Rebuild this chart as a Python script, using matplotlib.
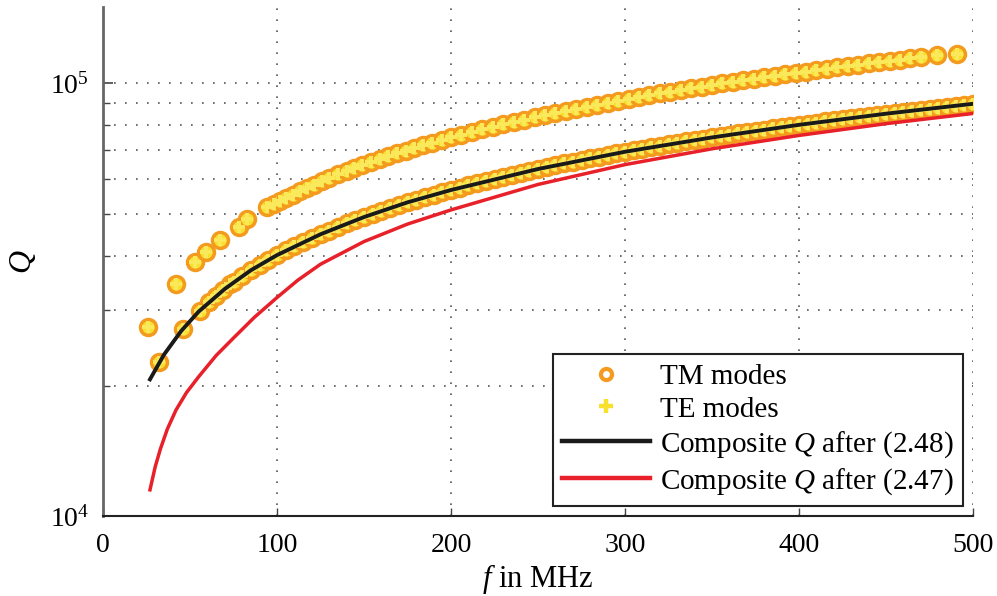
import matplotlib
matplotlib.use("Agg")
import matplotlib.pyplot as plt
from matplotlib.lines import Line2D
from matplotlib.ticker import LogLocator, NullFormatter

plt.rcParams['font.family'] = ['Liberation Serif', 'DejaVu Serif']
plt.rcParams['mathtext.fontset'] = 'custom'
plt.rcParams['mathtext.rm'] = 'Liberation Serif'
plt.rcParams['mathtext.it'] = 'Liberation Serif:italic'

# resonator modes, upper branch (f in MHz, Q)
f_upper = [26, 42, 53, 59, 67, 78, 83, 94, 98, 102, 105, 109, 113, 117, 121, 126, 130, 135,
           140, 144, 149, 154, 159, 164, 169, 174, 179, 184, 189, 195, 200, 206, 212, 218,
           224, 230, 236, 242, 248, 254, 260, 266, 272, 278, 284, 290, 296, 302, 308, 314,
           320, 326, 332, 338, 344, 350, 356, 362, 368, 374, 380, 386, 392, 398, 404, 410,
           416, 422, 428, 434, 440, 446, 452, 458, 464, 470, 479, 491]
q_upper = [27300, 34350, 38600, 40700, 43400, 46500, 48500, 51700, 52500, 53500, 54300,
           55300, 56300, 57300, 58300, 59500, 60400, 61600, 62700, 63600, 64700, 65800,
           66800, 67900, 68900, 69900, 70900, 71900, 72900, 74000, 75000, 76100, 77200,
           78300, 79300, 80400, 81400, 82400, 83500, 84500, 85500, 86400, 87400, 88400,
           89300, 90300, 91200, 92100, 93000, 93900, 94800, 95700, 96600, 97400, 98300,
           99200, 100000, 100800, 101700, 102500, 103300, 104100, 104900, 105700, 106500,
           107300, 108100, 108900, 109600, 110400, 111200, 111900, 112700, 113400, 114200,
           114900, 116000, 117100]

# resonator modes, lower branch
f_lower = [32, 46, 56, 61, 65, 69, 73, 75, 80, 85, 90, 95, 100, 105, 110, 115, 120, 125,
           130, 135, 140, 145, 150, 155, 160, 165, 170, 175, 180, 185, 190, 195, 200, 205,
           210, 215, 220, 225, 230, 235, 240, 245, 250, 255, 260, 265, 270, 275, 280, 285,
           290, 295, 300, 305, 310, 315, 320, 325, 330, 335, 340, 345, 350, 355, 360, 365,
           370, 375, 380, 385, 390, 395, 400, 405, 410, 415, 420, 425, 430, 435, 440, 445,
           450, 455, 460, 465, 470, 475, 480, 485, 490, 495, 500]
q_lower = [22700, 27000, 29800, 31300, 32300, 33300, 34300, 34700, 35900, 37000, 38100,
           39100, 40100, 41100, 42100, 43000, 43900, 44800, 45700, 46600, 47500, 48300,
           49100, 49900, 50700, 51500, 52300, 53100, 53800, 54600, 55300, 56000, 56700,
           57400, 58100, 58800, 59500, 60200, 60800, 61500, 62100, 62800, 63400, 64100,
           64700, 65300, 65900, 66500, 67100, 67700, 68300, 68900, 69500, 70100, 70600,
           71200, 71800, 72300, 72900, 73400, 74000, 74500, 75000, 75600, 76100, 76600,
           77200, 77700, 78200, 78700, 79200, 79700, 80200, 80700, 81200, 81700, 82200,
           82700, 83200, 83700, 84100, 84600, 85100, 85600, 86000, 86500, 87000, 87400,
           87900, 88300, 88800, 89200, 89700]

# composite Q curves
f_248 = [27, 35, 45, 55, 70, 85, 100, 125, 150, 175, 200, 250, 300, 350, 400, 450, 500]
q_248 = [20700, 23600, 26800, 29700, 33500, 37000, 40100, 44800, 49100, 53100, 56700,
         63400, 69500, 75000, 80200, 85100, 89700]
f_247 = [27, 30, 33, 37, 42, 48, 55, 65, 75, 87, 100, 112, 125, 150, 175, 200, 250, 300,
         350, 400, 450, 500]
q_247 = [11500, 13000, 14300, 15900, 17600, 19300, 21000, 23500, 25800, 28800, 32000,
         35100, 38200, 43100, 47300, 51000, 58400, 64900, 70600, 75800, 80700, 85200]

orange = '#f39a1f'
yellow = '#f7e12e'
plus_col = '#fbe95c'

fig = plt.figure(figsize=(9.97, 5.96), dpi=100)
ax = fig.add_axes([0.1033, 0.134, 0.8727, 0.854])

for f, q in [(f_upper, q_upper), (f_lower, q_lower)]:
    ax.plot(f, q, 'o', ms=11.5, mfc=yellow, mec=orange, mew=2.5, zorder=3)
for f, q in [(f_upper, q_upper), (f_lower, q_lower)]:
    ax.plot(f, q, '+', ms=9, color=plus_col, mew=2.8, zorder=4)

ax.plot(f_248, q_248, color='#1a1a1a', lw=2.8, zorder=5)
ax.plot(f_247, q_247, color='#e8202a', lw=2.5, zorder=5)

ax.set_yscale('log')
ax.set_xlim(0, 500)
ax.set_ylim(1e4, 1.5e5)
ax.set_xticks([0, 100, 200, 300, 400, 500])
ax.yaxis.set_major_locator(LogLocator(base=10, numticks=10))
ax.yaxis.set_minor_locator(LogLocator(base=10, subs=range(2, 10), numticks=10))
ax.yaxis.set_minor_formatter(NullFormatter())

ax.grid(True, which='both', axis='y', color='#555555', lw=1.2, ls=(0, (1, 5.6)))
ax.grid(True, which='major', axis='x', color='#555555', lw=1.2, ls=(0, (1, 5.6)))

ax.spines['top'].set_visible(False)
ax.spines['right'].set_visible(False)
ax.spines['left'].set_color('#666666')
ax.spines['left'].set_linewidth(2)
ax.spines['bottom'].set_color('#222222')
ax.spines['bottom'].set_linewidth(1.5)
ax.tick_params(axis='both', which='both', direction='in', labelsize=20)
ax.tick_params(axis='y', which='major', length=7, width=1.2, color='#444444', pad=10)
ax.tick_params(axis='y', which='minor', length=5, width=1.0, color='#444444')
ax.tick_params(axis='x', which='major', length=6, width=1.0, color='#444444', pad=12)

ax.set_xlabel(r'$f$ in MHz', fontsize=22, labelpad=3)
ax.set_ylabel(r'$Q$', fontsize=23)
ax.yaxis.set_label_coords(-0.075, 0.5)

handles = [
    Line2D([], [], ls='none', marker='o', ms=8, mfc='white', mec=orange, mew=3),
    Line2D([], [], ls='none', marker='+', ms=10, color=yellow, mew=3.2),
    Line2D([], [], color='#1a1a1a', lw=3.2),
    Line2D([], [], color='#e8202a', lw=3.2),
]
labels = ['TM modes', 'TE modes', r'Composite $Q$ after (2.48)', r'Composite $Q$ after (2.47)']
leg = ax.legend(handles, labels, loc='lower right', bbox_to_anchor=(0.9885, 0.0196),
                borderaxespad=0, fontsize=21, handlelength=3.0, labelspacing=0.22,
                handletextpad=0.35, fancybox=False, framealpha=1, borderpad=0.32)
leg.get_frame().set_edgecolor('#222222')
leg.get_frame().set_linewidth(1.5)
leg.set_zorder(10)

fig.savefig('out.png', dpi=100)
